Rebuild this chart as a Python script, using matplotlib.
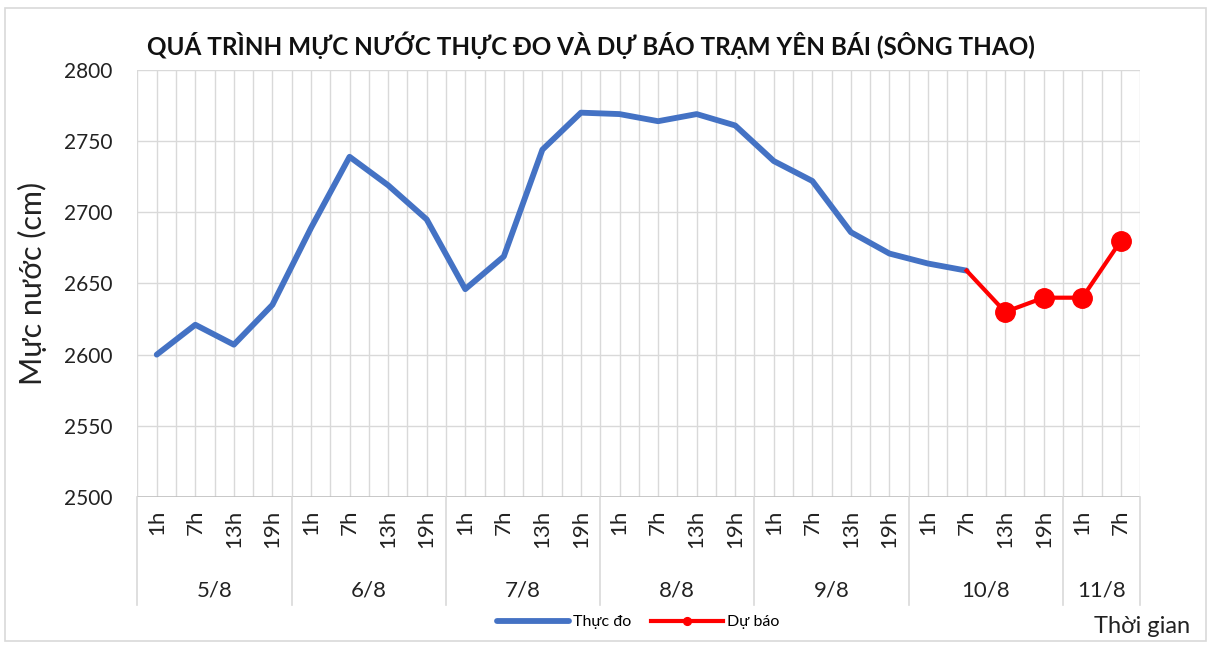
import matplotlib.pyplot as plt
import matplotlib.transforms as mtransforms
from matplotlib.patches import Rectangle

# data
days = ["5/8", "6/8", "7/8", "8/8", "9/8", "10/8", "11/8"]
hours_per_day = [["1h", "7h", "13h", "19h"]] * 6 + [["1h", "7h"]]
observed = [2600, 2621, 2607, 2635,
            2689, 2739, 2719, 2695,
            2646, 2669, 2744, 2770,
            2769, 2764, 2769, 2761,
            2736, 2722, 2686, 2671,
            2664, 2659]
forecast_start = 21  # forecast line starts at last observed point (10/8 7h)
forecast = [2659, 2630, 2640, 2640, 2680]

plt.rcParams['font.family'] = ['Lato', 'DejaVu Sans']

tick_labels = [h for day in hours_per_day for h in day]
n = len(tick_labels)
xs = list(range(n))

fig = plt.figure(figsize=(12.11, 6.46), dpi=100)
fig.patches.append(Rectangle((0.004, 0.008), 0.992, 0.98, transform=fig.transFigure,
                             fill=False, edgecolor='#d9d9d9', lw=1.2))
ax = fig.add_axes([0.1135, 0.2307, 0.828, 0.661])

grid_c = '#d9d9d9'
for y in range(2550, 2801, 50):
    ax.axhline(y, color=grid_c, lw=1, zorder=0)
for k in range(2 * n + 1):
    ax.axvline(-0.5 + k * 0.5, color=grid_c, lw=1, zorder=0)

ax.plot(xs[:len(observed)], observed, color='#4472C4', lw=4.2,
        solid_capstyle='round', label='Thực đo', zorder=3)
fx = xs[forecast_start:forecast_start + len(forecast)]
ax.plot(fx, forecast, color='#FF0000', lw=3, marker='o', markersize=14,
        markevery=list(range(1, len(forecast))), label='Dự báo', zorder=4)

ax.set_xlim(-0.5, n - 0.5)
ax.set_ylim(2500, 2800)
ax.set_yticks(range(2500, 2801, 50))
ax.tick_params(axis='y', length=0, pad=18, labelsize=15, labelcolor='#222222')
ax.set_xticks(xs)
ax.set_xticklabels(tick_labels, rotation=90, fontsize=16, color='#222222')
ax.tick_params(axis='x', length=0, pad=9)
for s in ax.spines.values():
    s.set_visible(False)
ax.axhline(2500, color='#bfbfbf', lw=1.2, zorder=1)

# day groups under the hour labels
trans = mtransforms.blended_transform_factory(ax.transData, ax.transAxes)
start = 0
bounds = [-0.5]
for day, hrs in zip(days, hours_per_day):
    end = start + len(hrs)
    ax.text((start + end - 1) / 2, -0.218, day, transform=trans,
            ha='center', va='center', fontsize=16, color='#222222')
    bounds.append(end - 0.5)
    start = end
for b in bounds:
    ax.plot([b, b], [0, -0.253], transform=trans, color=grid_c, lw=1.2, clip_on=False)

ax.set_ylabel('Mực nước (cm)', fontsize=22, labelpad=12, color='#222222')
fig.text(0.488, 0.93, 'QUÁ TRÌNH MỰC NƯỚC THỰC ĐO VÀ DỰ BÁO TRẠM YÊN BÁI (SÔNG THAO)',
         ha='center', va='center', fontsize=17.5, fontweight='bold', color='#111111')
fig.text(0.983, 0.03, 'Thời gian', ha='right', va='center', fontsize=17, color='#222222')

fig.legend(loc='center', bbox_to_anchor=(0.527, 0.037), ncol=2, frameon=False,
           fontsize=11.5, handlelength=4.5, columnspacing=1.2, handletextpad=0.3,
           markerscale=0.4)

fig.savefig('out.png', dpi=100)
